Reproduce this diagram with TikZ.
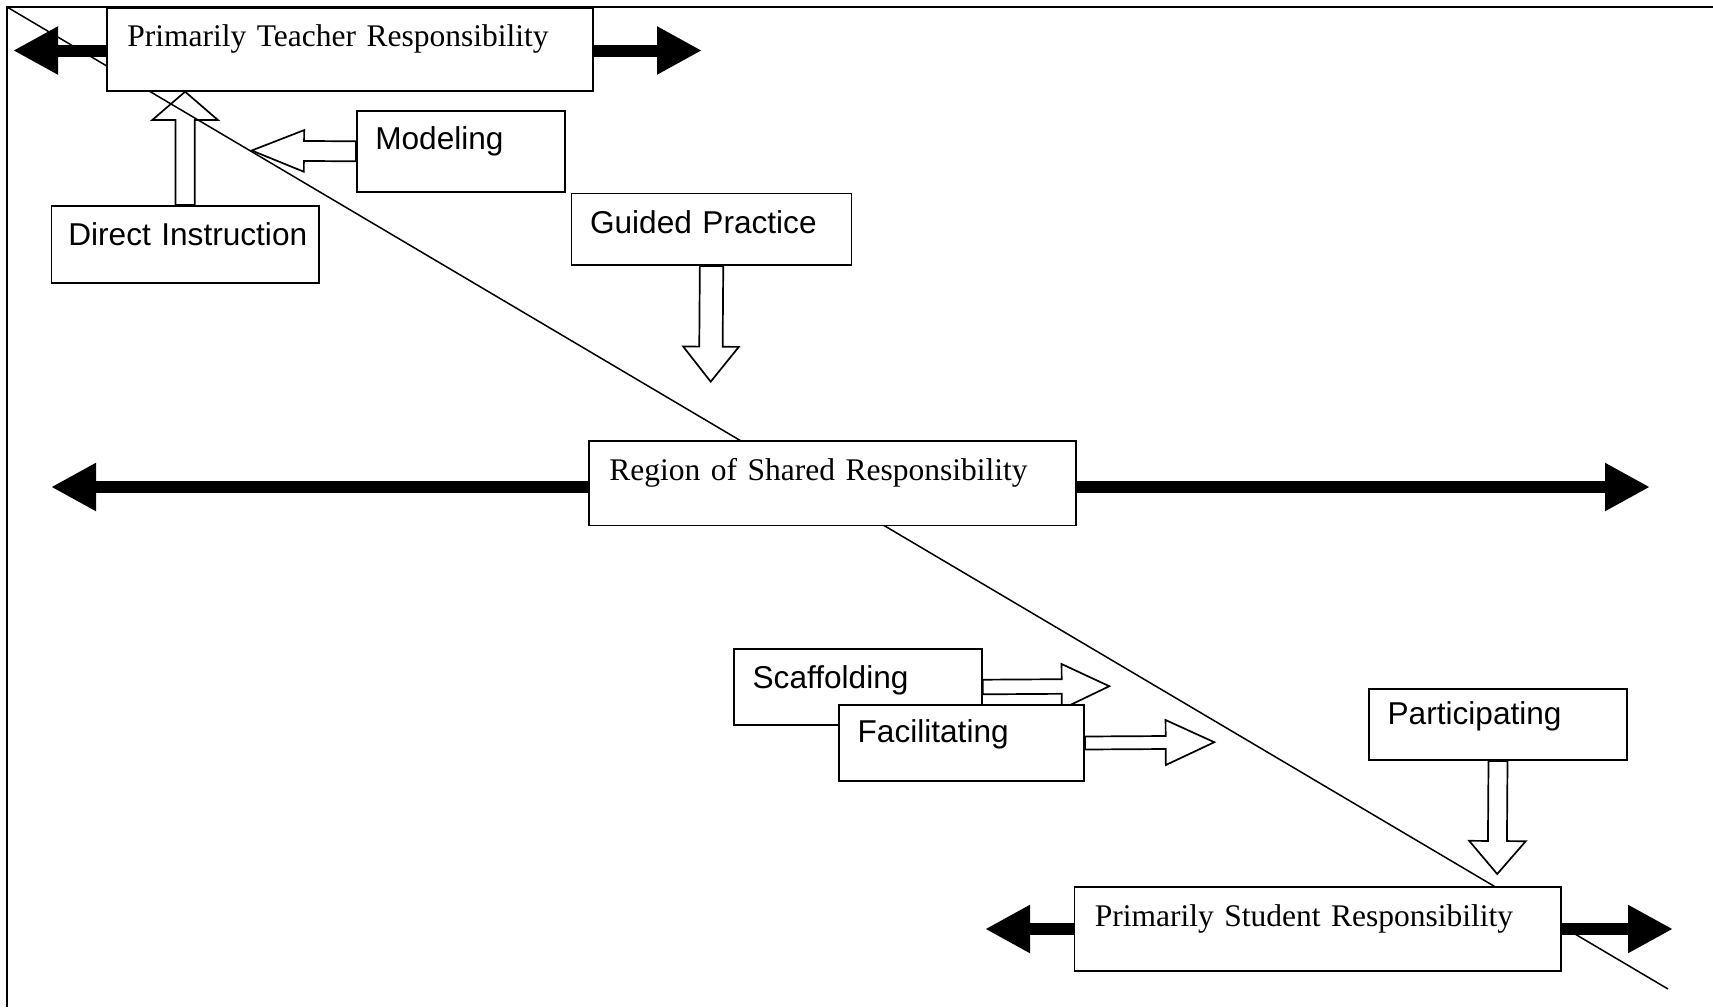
\documentclass[tikz,border=0pt]{standalone}
\usepackage{fontspec}
\setmainfont{Liberation Serif}
\setsansfont{Liberation Sans}
\usetikzlibrary{arrows.meta,calc,backgrounds}

% hollow block arrow: from, to, half shaft, half head, head length
\newcommand{\blockarrow}[5]{%
  \path (#2) coordinate (ba-t) ($(#2)!#5!(#1)$) coordinate (ba-h);
  \draw[hollow] ($(#1)!#3!90:(#2)$) -- ($(ba-h)!#3!90:(ba-t)$) -- ($(ba-h)!#4!90:(ba-t)$) -- (ba-t)
    -- ($(ba-h)!#4!-90:(ba-t)$) -- ($(ba-h)!#3!-90:(ba-t)$) -- ($(#1)!#3!-90:(#2)$) -- cycle;
}

\begin{document}
\begin{tikzpicture}[
  x=1pt, y=-1pt,
  rbox/.style={draw, fill=white, line width=1.7pt, anchor=north west, align=left,
    inner xsep=20.5pt, inner ysep=0pt, font=\fontsize{31.5pt}{38pt}\selectfont\rmfamily},
  sbox/.style={rbox, inner xsep=18.5pt, font=\fontsize{31.6pt}{38pt}\selectfont\sffamily},
  hollow/.style={draw, fill=white, line width=1.7pt, line join=miter},
  fat/.style={line width=12pt, -{Triangle[length=45pt,width=45pt]}},
  diag/.style={line width=1.5pt}
]
\useasboundingbox (0,0) rectangle (1713,1007);

% responsibility boxes
\node[rbox, text width=445pt, text height=38.5pt, text depth=44.5pt] (teach) at (106,7) {Primarily Teacher Responsibility};
\node[sbox, inner xsep=17pt, text width=233.5pt, text height=40pt, text depth=37pt] (direct) at (50.5,205) {\mbox{Direct Instruction}};
\node[sbox, text width=171pt, text height=38.3pt, text depth=42.7pt] (model) at (356,110) {Modeling};
\node[sbox, text width=243pt, text height=40pt, text depth=31.6pt] (guided) at (570.7,192.7) {Guided Practice};
\node[rbox, text width=446pt, text height=40pt, text depth=44.5pt] (shared) at (588,440) {Region of Shared Responsibility};
\node[sbox, text width=210.7pt, text height=39.4pt, text depth=36.3pt] (scaff) at (733.3,648.3) {Scaffolding};
\node[sbox, text width=208pt, text height=37.4pt, text depth=38.3pt] (facil) at (838.3,704.3) {Facilitating};
\node[sbox, text width=220.7pt, text height=35pt, text depth=36pt] (partic) at (1368.3,688.3) {Participating};
\node[rbox, text width=445.5pt, text height=40pt, text depth=44pt] (student) at (1073.5,886) {Primarily Student Responsibility};

% free ends
\coordinate (corner) at (7,7);
\coordinate (diagend) at (1668,989);
\coordinate (ditip) at (direct.north |- teach.south);
\coordinate (motip) at (251.7,150.5);
\coordinate (gutip) at (710.7,381.7);
\coordinate (sctip) at (1109.3,686.2);
\coordinate (fatip) at (1214.3,742.2);
\coordinate (patip) at (1497.2,874);
\coordinate (tlt) at (13,50.5);
\coordinate (trt) at (702,50.5);
\coordinate (slt) at (51,487);
\coordinate (srt) at (1650,487);
\coordinate (plt) at (985,929);
\coordinate (prt) at (1673,929);

\begin{scope}[on background layer]
\blockarrow{direct.north}{ditip}{9.7pt}{32.8pt}{28.3pt}
\blockarrow{model.west}{motip}{10pt}{20.8pt}{52.3pt}
\blockarrow{guided.south}{gutip}{11.7pt}{27.8pt}{35pt}
\blockarrow{scaff.east}{sctip}{7.3pt}{22.5pt}{47.6pt}
\blockarrow{facil.east}{fatip}{6.5pt}{22.5pt}{48.6pt}
\blockarrow{partic.south}{patip}{9.5pt}{28.3pt}{33pt}

\draw[diag] (1713,7) -- (corner) -- (7,1007);
\draw[diag] (corner) -- (diagend);

\draw[fat] (tlt -| teach.west) -- (tlt);
\draw[fat] (trt -| teach.east) -- (trt);
\draw[fat] (slt -| shared.west) -- (slt);
\draw[fat] (srt -| shared.east) -- (srt);
\draw[fat] (plt -| student.west) -- (plt);
\draw[fat] (prt -| student.east) -- (prt);
\end{scope}
\end{tikzpicture}
\end{document}
